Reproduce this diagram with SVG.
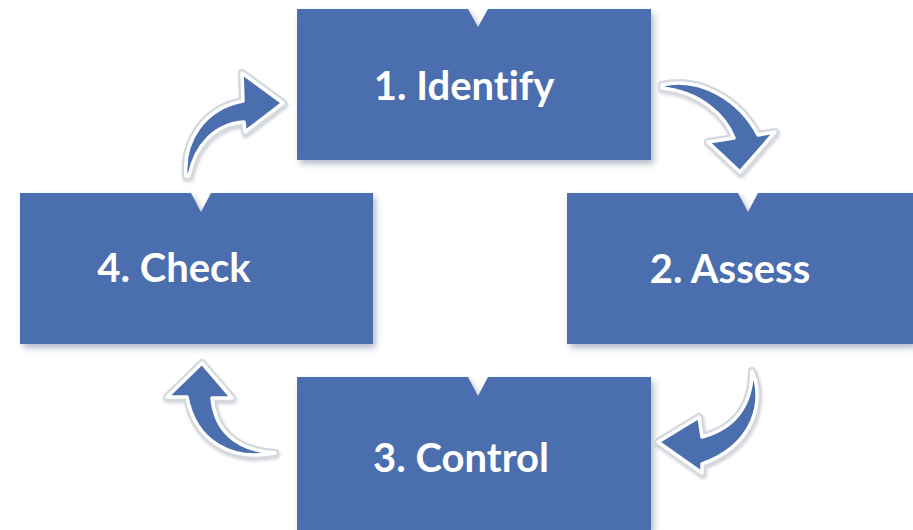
<svg xmlns="http://www.w3.org/2000/svg" width="913" height="530" viewBox="0 0 913 530">
<defs>
<filter id="sh" x="-10%" y="-10%" width="125%" height="130%">
<feDropShadow dx="3" dy="4" stdDeviation="3" flood-color="#5a6a8a" flood-opacity="0.45"/>
</filter>
<filter id="ash" x="-20%" y="-20%" width="140%" height="140%">
<feDropShadow dx="1" dy="2" stdDeviation="1.5" flood-color="#8890a0" flood-opacity="0.4"/>
</filter>
<path id="a1" d="M662 85 C700 76 740 100 758 135 L775 132 L740 172 L708 142 L734 138 C725 115 700 92 662 88 Z"/>
<path id="a2" d="M752 371 C765 400 755 445 702 464 L702 473 L658 442 L699 417 L702 437 C735 428 752 405 752 371 Z"/>
<path id="a3" d="M275 453 C230 462 195 440 187 397 L167 397 L202 363 L232 398 L212 398 C215 430 235 450 275 453 Z"/>
<path id="a4" d="M186 176 C183 140 205 108 243 101 L242 73 L283 103 L245 132 L244 122 C215 124 195 145 189 176 Z"/>
<style>
.box{fill:#4b6eae;filter:url(#sh)}
.lbl{font-family:Lato,"Open Sans",sans-serif;font-weight:bold;font-size:40px;fill:#ffffff;text-anchor:middle;font-variant-ligatures:none}
.arro{fill:#d4d8df;stroke:#d4d8df;stroke-width:8;stroke-linejoin:round;filter:url(#ash)}
.arr{fill:#4b6eae;stroke:#ffffff;stroke-width:3.5;stroke-linejoin:round}
</style>
</defs>
<rect width="913" height="530" fill="#ffffff"/>
<g id="node1">
<path class="box" d="M297 9 H468 L478 27 L488 9 H651 V160 H297 Z"/>
<text class="lbl" x="464" y="100">1. Identify</text>
</g>
<g id="node2">
<path class="box" d="M567 193 H738 L748 212 L758 193 H913 V344 H567 Z"/>
<text class="lbl" x="730" y="283">2. Assess</text>
</g>
<g id="node3">
<path class="box" d="M297 377 H468 L478 396 L488 377 H651 V530 H297 Z"/>
<text class="lbl" x="461" y="472">3. Control</text>
</g>
<g id="node4">
<path class="box" d="M20 193 H191 L201 212 L211 193 H373 V344 H20 Z"/>
<text class="lbl" x="174" y="282">4. Check</text>
</g>
<g id="connectors">
<use href="#a1" class="arro"/><use href="#a1" class="arr"/>
<use href="#a2" class="arro"/><use href="#a2" class="arr"/>
<use href="#a3" class="arro"/><use href="#a3" class="arr"/>
<use href="#a4" class="arro"/><use href="#a4" class="arr"/>
</g>
</svg>
